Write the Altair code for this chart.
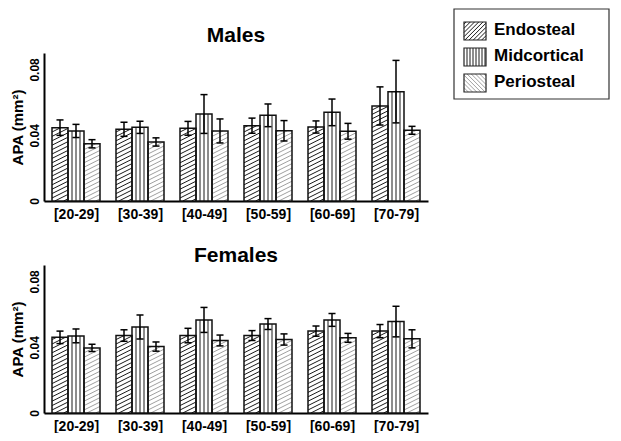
import altair as alt
import numpy as np
import pandas as pd

age_groups = ["[20-29]", "[30-39]", "[40-49]", "[50-59]", "[60-69]", "[70-79]"]
series = ["Endosteal", "Midcortical", "Periosteal"]

males_endo = [0.0446, 0.0436, 0.0442, 0.0458, 0.0450, 0.0578]
males_endo_err = [0.0047, 0.0043, 0.0042, 0.0046, 0.0037, 0.0116]
males_mid = [0.0426, 0.0448, 0.0529, 0.0521, 0.0539, 0.0665]
males_mid_err = [0.0040, 0.0037, 0.0118, 0.0069, 0.0081, 0.0190]
males_peri = [0.0348, 0.0359, 0.0426, 0.0427, 0.0424, 0.0430]
males_peri_err = [0.0025, 0.0025, 0.0073, 0.0062, 0.0048, 0.0024]

females_endo = [0.0460, 0.0471, 0.0471, 0.0471, 0.0498, 0.0498]
females_endo_err = [0.0038, 0.0035, 0.0044, 0.0030, 0.0031, 0.0040]
females_mid = [0.0469, 0.0523, 0.0566, 0.0541, 0.0566, 0.0556]
females_mid_err = [0.0042, 0.0073, 0.0076, 0.0033, 0.0039, 0.0093]
females_peri = [0.0396, 0.0404, 0.0441, 0.0447, 0.0457, 0.0451]
females_peri_err = [0.0022, 0.0028, 0.0033, 0.0034, 0.0027, 0.0055]

y_ticks = [0, 0.04, 0.08]

FONT = "Liberation Sans"
W, H = 384, 148
YMAX = 0.09
NG = len(age_groups)
KX = W / NG
KY = H / YMAX
BAR_W = 0.25
HATCH_COLORS = {"Endosteal": "#1a1a1a", "Midcortical": "#1a1a1a", "Periosteal": "#a0a0a0"}


def clip_lines(X0, X1, Y0, Y1, s, sp):
    """Parallel lines y = c + s*(x-X0) clipped to a rectangle; returns segments."""
    w = X1 - X0
    segs = []
    cmin = Y0 - max(s * w, 0)
    cmax = Y1 - min(s * w, 0)
    c = cmin + sp / 2
    while c < cmax:
        if s > 0:
            lo, hi = (Y0 - c) / s, (Y1 - c) / s
        else:
            lo, hi = (Y1 - c) / s, (Y0 - c) / s
        lo, hi = max(0.0, lo), min(w, hi)
        if hi - lo > 0.3:
            segs.append((X0 + lo, c + s * lo, X0 + hi, c + s * hi))
        c += sp
    return segs


def build(vals, errs):
    rows, hatch = [], []
    for si, sname in enumerate(series):
        for gi, g in enumerate(age_groups):
            v, e = vals[si][gi], errs[si][gi]
            x0 = gi + 0.125 + BAR_W * si
            x1 = x0 + BAR_W
            xc = (x0 + x1) / 2
            rows.append(dict(group=g, series=sname, x0=x0, x1=x1, xc=xc, base=0.0, v=v,
                             lo=v - e, hi=v + e, cl=xc - 0.055, cr=xc + 0.055))
            PX0, PX1, PH = x0 * KX, x1 * KX, v * KY
            if sname == "Midcortical":
                for k in (4, 8, 12):
                    hatch.append(dict(series=sname, hx=(PX0 + k) / KX, hx2=(PX0 + k) / KX,
                                      hy=0.0, hy2=v))
            else:
                for a, b, c, d in clip_lines(PX0, PX1, 0.0, PH, 0.5, 4.4):
                    hatch.append(dict(series=sname, hx=a / KX, hy=b / KY, hx2=c / KX, hy2=d / KY))
    return pd.DataFrame(rows), pd.DataFrame(hatch)


label_expr = "[" + ",".join("'%s'" % g for g in age_groups) + "][floor(datum.value)]"
xscale = alt.Scale(domain=[0, NG], nice=False, zero=False)
yscale = alt.Scale(domain=[0, YMAX], nice=False)


def panel(title, vals, errs, title_dy, with_legend=False):
    bars, hatch = build(vals, errs)
    xaxis = alt.Axis(values=[i + 0.5 for i in range(NG)], labelExpr=label_expr, title=None,
                     grid=False, ticks=False, domainColor="black", domainWidth=2,
                     labelFont=FONT, labelFontSize=14, labelFontWeight="bold",
                     labelColor="black", labelPadding=6)
    yaxis = alt.Axis(values=y_ticks, labelExpr="datum.value == 0 ? '0' : format(datum.value, '.2f')",
                     title="APA (mm²)", grid=False, ticks=False, domainColor="black",
                     domainWidth=2, labelAngle=270, labelFont=FONT, labelFontSize=12,
                     labelFontWeight="bold", labelColor="black", labelPadding=3,
                     titleFont=FONT, titleFontSize=15, titleFontWeight="bold",
                     titleColor="black", titlePadding=3)
    base = alt.Chart(bars)
    fill = base.mark_rect(fill="white", stroke=None).encode(
        x=alt.X("x0:Q", scale=xscale, axis=xaxis), x2="x1:Q",
        y=alt.Y("base:Q", scale=yscale, axis=yaxis), y2="v:Q")
    hl = alt.Chart(hatch).mark_rule(strokeWidth=1).encode(
        x=alt.X("hx:Q", scale=xscale), x2="hx2:Q",
        y=alt.Y("hy:Q", scale=yscale), y2="hy2:Q",
        color=alt.Color("series:N", scale=alt.Scale(domain=series,
                        range=[HATCH_COLORS[s] for s in series]), legend=None))
    outline = base.mark_rect(fillOpacity=0, stroke="#111", strokeWidth=1.5).encode(
        x="x0:Q", x2="x1:Q", y="base:Q", y2="v:Q")
    err = base.mark_rule(color="black", strokeWidth=1.5).encode(x="xc:Q", y="lo:Q", y2="hi:Q")
    cap_lo = base.mark_rule(color="black", strokeWidth=1.5).encode(x="cl:Q", x2="cr:Q", y="lo:Q")
    cap_hi = base.mark_rule(color="black", strokeWidth=1.5).encode(x="cl:Q", x2="cr:Q", y="hi:Q")
    title_df = pd.DataFrame([dict(t=title, tx=W / 2, ty=title_dy)])
    ttl = alt.Chart(title_df).mark_text(
        align="center", baseline="middle", font=FONT, fontSize=21, fontWeight="bold",
        color="black").encode(x=alt.X("tx:Q", scale=None), y=alt.Y("ty:Q", scale=None), text="t:N")
    layers = [fill, hl, outline, err, cap_lo, cap_hi, ttl]

    if with_legend:
        LX0, LX1, LY0, LY1 = 410, 565, -44, 46
        box = pd.DataFrame([dict(a=LX0, b=LX1, c=LY0, d=LY1)])
        layers.append(alt.Chart(box).mark_rect(fill="white", stroke="#333", strokeWidth=1.2).encode(
            x=alt.X("a:Q", scale=None), x2="b:Q", y=alt.Y("c:Q", scale=None), y2="d:Q"))
        sw_rows, sw_lines, txt = [], [], []
        for i, s in enumerate(series):
            cy = -22 + 26 * i
            sx0, sx1, sy0, sy1 = 420, 442, cy - 9, cy + 9
            sw_rows.append(dict(series=s, a=sx0, b=sx1, c=sy0, d=sy1))
            txt.append(dict(series=s, tx=450, ty=cy - 1))
            if s == "Midcortical":
                for k in np.arange(3, 22, 3):
                    sw_lines.append(dict(series=s, a=sx0 + k, b=sx0 + k, c=sy0, d=sy1))
            else:
                slope = -1 if s == "Endosteal" else 1
                for a, b, c, d in clip_lines(sx0, sx1, sy0, sy1, slope, 4.2):
                    sw_lines.append(dict(series=s, a=a, b=c, c=b, d=d))
        sw = pd.DataFrame(sw_rows)
        layers.append(alt.Chart(sw).mark_rect(fill="white").encode(
            x=alt.X("a:Q", scale=None), x2="b:Q", y=alt.Y("c:Q", scale=None), y2="d:Q"))
        layers.append(alt.Chart(pd.DataFrame(sw_lines)).mark_rule(strokeWidth=1).encode(
            x=alt.X("a:Q", scale=None), x2="b:Q", y=alt.Y("c:Q", scale=None), y2="d:Q",
            color=alt.Color("series:N", scale=alt.Scale(domain=series,
                            range=[HATCH_COLORS[s] for s in series]), legend=None)))
        layers.append(alt.Chart(sw).mark_rect(fillOpacity=0, stroke="#222", strokeWidth=1.2).encode(
            x=alt.X("a:Q", scale=None), x2="b:Q", y=alt.Y("c:Q", scale=None), y2="d:Q"))
        layers.append(alt.Chart(pd.DataFrame(txt)).mark_text(
            align="left", baseline="middle", font=FONT, fontSize=17, fontWeight="bold",
            color="black").encode(
            x=alt.X("tx:Q", scale=None), y=alt.Y("ty:Q", scale=None), text="series:N"))

    return alt.layer(*layers).properties(width=W, height=H)


males = panel("Males", [males_endo, males_mid, males_peri],
              [males_endo_err, males_mid_err, males_peri_err], -17, with_legend=True)
females = panel("Females", [females_endo, females_mid, females_peri],
                [females_endo_err, females_mid_err, females_peri_err], -9)

chart = alt.vconcat(males, females, spacing=24).properties(
    padding={"left": 2, "top": 0, "right": 0, "bottom": 0},
    background="white").configure_view(stroke=None)

chart.save("out.html", embed_options={"renderer": "svg", "actions": False})
